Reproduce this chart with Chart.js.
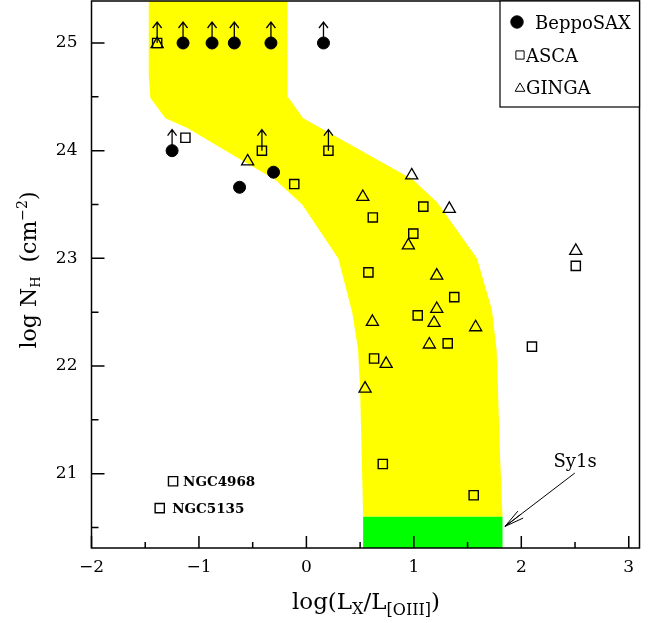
<!DOCTYPE html>
<html lang="en">
<head>
<meta charset="UTF-8">
<title>log NH vs log(LX/L[OIII])</title>
<script src="https://cdn.jsdelivr.net/npm/chart.js"></script>
<style>
  body { margin: 0; background: #ffffff; }
  canvas { display: block; }
</style>
</head>
<body>
<canvas id="nhChart" width="653" height="623"></canvas>
<script>
// values
const saxX = [-1.148, -0.878, -0.671, -0.330, 0.159, -1.250, -0.306, -0.622];
const saxY = [25.0, 25.0, 25.0, 25.0, 25.0, 24.0, 23.80, 23.66];

const ascaX = [-1.389, -1.126, -0.414, 0.205, -0.113, 1.088, 0.618, 0.995, 0.577, 1.376,
               1.036, 1.315, 0.630, 0.711, 1.557, 2.507, 2.099, -1.241, -1.365];
const ascaY = [25.0, 24.12, 24.0, 24.0, 23.69, 23.48, 23.38, 23.23, 22.87, 22.64,
               22.47, 22.21, 22.07, 21.09, 20.80, 22.93, 22.18, 20.93, 20.68];

const gingaX = [-1.389, -0.547, 0.980, 0.525, 1.330, 0.949, 1.213, 1.213, 0.614, 1.188,
                1.575, 1.144, 0.742, 0.546, 2.507];
const gingaY = [24.99, 23.90, 23.77, 23.57, 23.46, 23.12, 22.84, 22.53, 22.41, 22.40,
                22.36, 22.20, 22.02, 21.79, 23.07];

// lower limits on NH (arrows pointing up)
const limitX = [-1.389, -1.148, -0.878, -0.671, -0.330, 0.159, -1.250, -0.414, 0.205];
const limitY = [25.0, 25.0, 25.0, 25.0, 25.0, 25.0, 24.0, 24.0, 24.0];

// yellow band outline
const bandX = [-1.467, -1.467, -1.452, -1.312, -1.108, -0.736, -0.290, -0.039, 0.296, 0.426,
               0.481, 0.500, 0.528, 1.825, 1.800, 1.783, 1.770, 1.727, 1.587, 1.216,
               0.993, 0.528, -0.030, -0.151, -0.176, -0.176];
const bandY = [25.6, 24.69, 24.49, 24.30, 24.21, 23.99, 23.73, 23.50, 23.00, 22.50,
               22.15, 21.78, 20.60, 20.60, 21.22, 21.78, 22.15, 22.52, 23.00, 23.52,
               23.73, 23.99, 24.30, 24.47, 24.50, 25.6];

// green Sy1 region
const sy1X = [0.528, 1.825, 1.825, 0.528];
const sy1Y = [20.2, 20.2, 20.60, 20.60];

const xTicks = [-2, -1, 0, 1, 2, 3];
const xMinor = [-1.5, -0.5, 0.5, 1.5, 2.5];
const yTicks = [21, 22, 23, 24, 25];
const yMinor = [20.5, 21.5, 22.5, 23.5, 24.5];

const legendLabels = ['BeppoSAX', 'ASCA', 'GINGA'];
const ngcNames = ['NGC4968', 'NGC5135'];
const ngcX = [-1.241, -1.365];
const ngcY = [20.93, 20.68];
const sy1Label = 'Sy1s';
const sy1LabelX = 2.5, sy1LabelY = 21.065;
const sy1ArrowX = [2.498, 1.848];
const sy1ArrowY = [21.006, 20.51];

const SERIF = "'DejaVu Serif', 'Liberation Serif', serif";

function pts(xs, ys) {
  return xs.map((x, i) => ({ x: x, y: ys[i] }));
}

function minus(v) {
  return String(v).replace('-', '\u2212');
}

// text with sub/superscripts, laid out left to right, centred on x
function drawRich(ctx, parts, x, y) {
  let total = 0;
  parts.forEach(p => {
    ctx.font = p.size + 'px ' + SERIF;
    p.w = ctx.measureText(p.t).width;
    total += p.w;
  });
  let cx = x - total / 2;
  ctx.textAlign = 'left';
  ctx.textBaseline = 'alphabetic';
  parts.forEach(p => {
    ctx.font = p.size + 'px ' + SERIF;
    ctx.fillText(p.t, cx, y + p.dy);
    cx += p.w;
  });
}

const extras = {
  id: 'extras',
  afterDatasetsDraw(chart) {
    const ctx = chart.ctx;
    const xs = chart.scales.x, ys = chart.scales.y;
    ctx.save();
    ctx.strokeStyle = '#000';
    ctx.fillStyle = '#000';
    ctx.lineWidth = 1.3;

    // up arrows
    limitX.forEach((v, i) => {
      const px = xs.getPixelForValue(v), py = ys.getPixelForValue(limitY[i]);
      ctx.beginPath();
      ctx.moveTo(px, py);
      ctx.lineTo(px, py - 21);
      ctx.moveTo(px - 4.5, py - 15);
      ctx.lineTo(px, py - 21);
      ctx.lineTo(px + 4.5, py - 15);
      ctx.stroke();
    });

    // NGC labels next to their squares
    ctx.font = 'bold 13.5px ' + SERIF;
    ctx.textAlign = 'left';
    ctx.textBaseline = 'alphabetic';
    const gap = [10, 12.4];
    ngcNames.forEach((n, i) => {
      const px = xs.getPixelForValue(ngcX[i]), py = ys.getPixelForValue(ngcY[i]);
      ctx.fillText(n, px + gap[i], py + 4.5);
    });

    // Sy1s label and arrow
    ctx.font = '18px ' + SERIF;
    ctx.textAlign = 'center';
    ctx.fillText(sy1Label, xs.getPixelForValue(sy1LabelX), ys.getPixelForValue(sy1LabelY));
    const x0 = xs.getPixelForValue(sy1ArrowX[0]), y0 = ys.getPixelForValue(sy1ArrowY[0]);
    const x1 = xs.getPixelForValue(sy1ArrowX[1]), y1 = ys.getPixelForValue(sy1ArrowY[1]);
    const ang = Math.atan2(y0 - y1, x0 - x1);
    ctx.lineWidth = 1;
    ctx.beginPath();
    ctx.moveTo(x0, y0);
    ctx.lineTo(x1, y1);
    [-0.22, 0, 0.22].forEach(d => {
      ctx.moveTo(x1, y1);
      ctx.lineTo(x1 + 20 * Math.cos(ang + d), y1 + 20 * Math.sin(ang + d));
    });
    ctx.stroke();
    ctx.restore();
  },
  afterDraw(chart) {
    const ctx = chart.ctx;
    const a = chart.chartArea;
    const xs = chart.scales.x, ys = chart.scales.y;
    ctx.save();
    ctx.strokeStyle = '#000';
    ctx.fillStyle = '#000';
    ctx.lineWidth = 1.5;

    // inward ticks on left and bottom
    ctx.beginPath();
    xTicks.forEach(v => { const p = xs.getPixelForValue(v); ctx.moveTo(p, a.bottom); ctx.lineTo(p, a.bottom - 12); });
    xMinor.forEach(v => { const p = xs.getPixelForValue(v); ctx.moveTo(p, a.bottom); ctx.lineTo(p, a.bottom - 6); });
    yTicks.forEach(v => { const p = ys.getPixelForValue(v); ctx.moveTo(a.left, p); ctx.lineTo(a.left + 13, p); });
    yMinor.forEach(v => { const p = ys.getPixelForValue(v); ctx.moveTo(a.left, p); ctx.lineTo(a.left + 7, p); });
    ctx.stroke();

    // frame
    ctx.strokeRect(a.left, a.top, a.right - a.left, a.bottom - a.top);

    // legend box
    const lx = 500, lb = 107;
    ctx.fillStyle = '#fff';
    ctx.fillRect(lx, a.top, a.right - lx, lb - a.top);
    ctx.lineWidth = 1.2;
    ctx.strokeRect(lx, a.top, a.right - lx, lb - a.top);
    const marks = [
      { style: 'circle', r: 6.2, x: 517, y: 22, fill: '#000', tx: 535, base: 28.5 },
      { style: 'rect', r: 5.8, x: 520, y: 55, fill: 'rgba(0,0,0,0)', tx: 526, base: 61.5 },
      { style: 'triangle', r: 5.6, x: 520, y: 88.5, fill: 'rgba(0,0,0,0)', tx: 526, base: 94 }
    ];
    ctx.font = '18px ' + SERIF;
    ctx.textAlign = 'left';
    ctx.textBaseline = 'alphabetic';
    legendLabels.forEach((lab, i) => {
      const m = marks[i];
      ctx.fillStyle = m.fill;
      ctx.strokeStyle = '#000';
      ctx.lineWidth = 1;
      Chart.helpers.drawPoint(ctx, { pointStyle: m.style, radius: m.r, borderWidth: 1, rotation: 0 }, m.x, m.y);
      ctx.fillStyle = '#000';
      ctx.fillText(lab, m.tx, m.base);
    });

    // axis titles
    ctx.fillStyle = '#000';
    drawRich(ctx, [
      { t: 'log(L', size: 23, dy: 0 },
      { t: 'X', size: 16, dy: 5 },
      { t: '/L', size: 23, dy: 0 },
      { t: '[OIII]', size: 16, dy: 6 },
      { t: ')', size: 23, dy: 0 }
    ], 366, 609);

    ctx.save();
    ctx.translate(36, 270);
    ctx.rotate(-Math.PI / 2);
    drawRich(ctx, [
      { t: 'log N', size: 22, dy: 0 },
      { t: 'H', size: 13, dy: 4 },
      { t: '  (cm', size: 22, dy: 0 },
      { t: '\u22122', size: 14, dy: -9 },
      { t: ')', size: 22, dy: 0 }
    ], 0, 0);
    ctx.restore();
    ctx.restore();
  }
};

const tickFont = { family: SERIF, size: 17 };

function noEdgePad(s) {
  s.paddingTop = 0;
  s.paddingBottom = 0;
  s.paddingLeft = 0;
  s.paddingRight = 0;
}

new Chart(document.getElementById('nhChart').getContext('2d'), {
  type: 'scatter',
  data: {
    datasets: [
      {
        label: 'band', type: 'line', data: pts(bandX, bandY), fill: 'shape',
        backgroundColor: '#ffff00', borderWidth: 0, borderColor: 'rgba(0,0,0,0)',
        pointRadius: 0, tension: 0, order: 10
      },
      {
        label: 'Sy1', type: 'line', data: pts(sy1X, sy1Y), fill: 'shape',
        backgroundColor: '#00ff00', borderWidth: 0, borderColor: 'rgba(0,0,0,0)',
        pointRadius: 0, tension: 0, order: 9
      },
      {
        label: legendLabels[0], data: pts(saxX, saxY), pointStyle: 'circle', pointRadius: 6,
        backgroundColor: '#000', borderColor: '#000', borderWidth: 1, order: 2
      },
      {
        label: legendLabels[1], data: pts(ascaX, ascaY), pointStyle: 'rect', pointRadius: 6.5,
        backgroundColor: 'rgba(0,0,0,0)', borderColor: '#000', borderWidth: 1.4, order: 1
      },
      {
        label: legendLabels[2], data: pts(gingaX, gingaY), pointStyle: 'triangle', pointRadius: 7,
        backgroundColor: 'rgba(0,0,0,0)', borderColor: '#000', borderWidth: 1.3, order: 0
      }
    ]
  },
  options: {
    responsive: false,
    animation: false,
    events: [],
    layout: { autoPadding: false, padding: { top: 1, right: 13.5, left: 0, bottom: 0 } },
    plugins: { legend: { display: false }, tooltip: { enabled: false } },
    scales: {
      x: {
        type: 'linear', min: -2, max: 3.1,
        grid: { display: false, drawTicks: false },
        border: { display: false },
        afterFit: s => { s.height = 75; noEdgePad(s); },
        afterBuildTicks: s => { s.ticks = xTicks.map(v => ({ value: v })); },
        ticks: { font: tickFont, color: '#000', padding: 9, maxRotation: 0, autoSkip: false, callback: v => minus(v) }
      },
      y: {
        type: 'linear', min: 20.31, max: 25.39,
        grid: { display: false, drawTicks: false },
        border: { display: false },
        afterFit: s => { s.width = 91.5; noEdgePad(s); },
        afterBuildTicks: s => { s.ticks = yTicks.map(v => ({ value: v })); },
        ticks: { font: tickFont, color: '#000', padding: 14, autoSkip: false, callback: v => minus(v) }
      }
    }
  },
  plugins: [extras]
});
</script>
</body>
</html>
